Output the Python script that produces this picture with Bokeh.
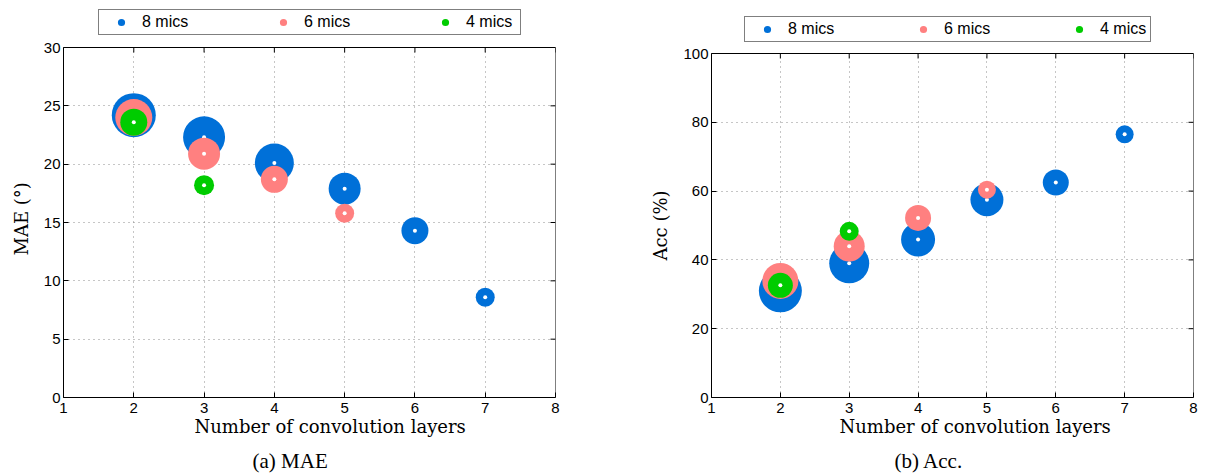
import math
from bokeh.plotting import figure
from bokeh.layouts import row
from bokeh.models import Range1d, FixedTicker, Legend, LegendItem, Title, Span, Grid
from bokeh.embed import file_html
from bokeh.resources import INLINE

# ---------------- data ----------------
layers_8 = [2, 3, 4, 5, 6, 7]
layers_6 = [2, 3, 4, 5]
layers_4 = [2, 3]

mae_8 = [24.2, 22.3, 20.1, 17.9, 14.3, 8.6]
mae_6 = [24.0, 20.9, 18.7, 15.8]
mae_4 = [23.6, 18.2]

acc_8 = [31.0, 39.0, 45.9, 57.5, 62.5, 76.5]
acc_6 = [33.9, 44.0, 52.2, 60.4]
acc_4 = [32.6, 48.3]

# bubble diameters
mae_bubble_8 = [44, 42, 39, 32, 27, 19]
mae_bubble_6 = [37, 32, 27, 19]
mae_bubble_4 = [27, 20]
acc_bubble_8 = [43, 40, 34, 33, 26, 18]
acc_bubble_6 = [36, 31, 26, 18]
acc_bubble_4 = [25, 19]

series_labels = ["8 mics", "6 mics", "4 mics"]
x_ticks = [1, 2, 3, 4, 5, 6, 7, 8]
mae_ticks = [0, 5, 10, 15, 20, 25, 30]
acc_ticks = [0, 20, 40, 60, 80, 100]

BLUE = "#0070D8"
PINK = "#FF8080"
GREEN = "#00CC00"
TICK_FONT = "Liberation Sans"
LABEL_FONT = "DejaVu Serif"
CAPTION_FONT = "Liberation Serif"
FRAME_H = 388   # frame also holds the legend strip above the axes box
HAS_CROSS = "cross_bounds" in Grid.properties()


def make_panel(ys, sizes, yticks, ylabel, caption, box_h,
               border_left, frame_width, border_right,
               ylabel_offset, ylabel_standoff,
               legend_loc, legend_label_width, legend_spacing,
               xlabel_offset, caption_offset):
    ymin, ymax = yticks[0], yticks[-1]
    xmin, xmax = x_ticks[0], x_ticks[-1]
    # the axes box is box_h px tall, at the bottom of the FRAME_H px frame
    ytop = ymin + (ymax - ymin) * FRAME_H / box_h
    p = figure(frame_width=frame_width, frame_height=FRAME_H,
               min_border_left=border_left, min_border_right=border_right,
               min_border_top=9, min_border_bottom=77,
               x_range=Range1d(xmin, xmax), y_range=Range1d(ymin, ytop),
               output_backend="svg", toolbar_location=None, tools="")
    p.background_fill_color = "white"
    p.border_fill_color = "white"
    p.outline_line_color = None

    for ax, ticks in ((p.xaxis[0], x_ticks), (p.yaxis[0], yticks)):
        ax.ticker = FixedTicker(ticks=ticks)
        ax.axis_line_color = "black"
        ax.major_tick_line_color = "black"
        ax.major_tick_in = 5
        ax.major_tick_out = 0
        ax.minor_tick_line_color = None
        ax.major_label_text_font = TICK_FONT
        ax.major_label_text_font_size = "15px"
        ax.major_label_text_color = "black"
    p.yaxis.bounds = (ymin, ymax)
    p.xaxis.major_label_standoff = 5
    p.yaxis.major_label_standoff = 3

    # y label as a side title so it can sit centred on the axes box
    p.add_layout(Title(text=ylabel, align="left", offset=ylabel_offset,
                       standoff=ylabel_standoff, text_font=LABEL_FONT,
                       text_font_size="18px", text_font_style="normal",
                       text_color="black"), "left")

    # grid (vertical lines limited to the axes box)
    p.xgrid.ticker = FixedTicker(ticks=x_ticks)
    p.ygrid.ticker = FixedTicker(ticks=yticks)
    for g in (p.xgrid[0], p.ygrid[0]):
        g.grid_line_color = "#8c8c8c"
        g.grid_line_dash = "1 4"
        g.grid_line_width = 1
    if HAS_CROSS:
        p.xgrid[0].cross_bounds = (ymin, ymax)
    else:
        p.xgrid.visible = False
        p.segment(x0=x_ticks, y0=[ymin] * len(x_ticks), x1=x_ticks,
                  y1=[ymax] * len(x_ticks), line_color="#8c8c8c",
                  line_dash="1 4", line_width=1)

    # top and right edges of the box, with inward ticks
    p.add_layout(Span(location=ymax, dimension="width", line_color="black", line_width=1))
    p.line(x=[xmax, xmax], y=[ymin, ymax], line_color="black", line_width=1)
    p.ray(x=x_ticks, y=[ymax] * len(x_ticks), length=5, length_units="screen",
          angle=-math.pi / 2, line_color="black", line_width=1)
    p.ray(x=[xmax] * len(yticks), y=yticks, length=5, length_units="screen",
          angle=math.pi, line_color="black", line_width=1)

    renderers = []
    for xs, yv, sv, col in ((layers_8, ys[0], sizes[0], BLUE),
                            (layers_6, ys[1], sizes[1], PINK),
                            (layers_4, ys[2], sizes[2], GREEN)):
        r = p.scatter(x=xs, y=yv, size=sv, marker="circle",
                      fill_color=col, line_color=None)
        p.scatter(x=xs, y=yv, size=4, marker="circle",
                  fill_color="white", line_color=None)
        renderers.append(r)

    legend = Legend(items=[LegendItem(label=lab, renderers=[r])
                           for lab, r in zip(series_labels, renderers)],
                    orientation="horizontal", location=legend_loc,
                    padding=2, margin=0, spacing=legend_spacing,
                    glyph_width=40, glyph_height=18,
                    label_width=legend_label_width, label_height=20,
                    label_standoff=1,
                    border_line_color="black", border_line_width=1,
                    background_fill_color="white", background_fill_alpha=1,
                    label_text_font=TICK_FONT, label_text_font_size="16px",
                    label_text_color="black")
    p.add_layout(legend)

    # below: x label (its empty second line leaves room), then the caption
    p.add_layout(Title(text="Number of convolution layers\n", align="left",
                       offset=xlabel_offset, standoff=-4,
                       text_font=LABEL_FONT, text_font_size="18px",
                       text_font_style="normal", text_color="black"), "below")
    p.add_layout(Title(text=caption, align="left", offset=caption_offset,
                       standoff=-18, text_font=CAPTION_FONT, text_font_size="21px",
                       text_font_style="normal", text_color="black"), "below")
    return p


p1 = make_panel((mae_8, mae_6, mae_4), (mae_bubble_8, mae_bubble_6, mae_bubble_4),
                mae_ticks, "MAE (°)", "(a) MAE", 350,
                60, 492, 48,
                142, 17,
                (35, 362), 52, 69, 131, 189)
p2 = make_panel((acc_8, acc_6, acc_4), (acc_bubble_8, acc_bubble_6, acc_bubble_4),
                acc_ticks, "Acc (%)", "(b) Acc.", 344,
                108, 482, 10,
                137, 19,
                (33, 355), 48, 67, 128, 183)

layout = row(p1, p2)
open("out.html", "w").write(file_html(layout, INLINE))
